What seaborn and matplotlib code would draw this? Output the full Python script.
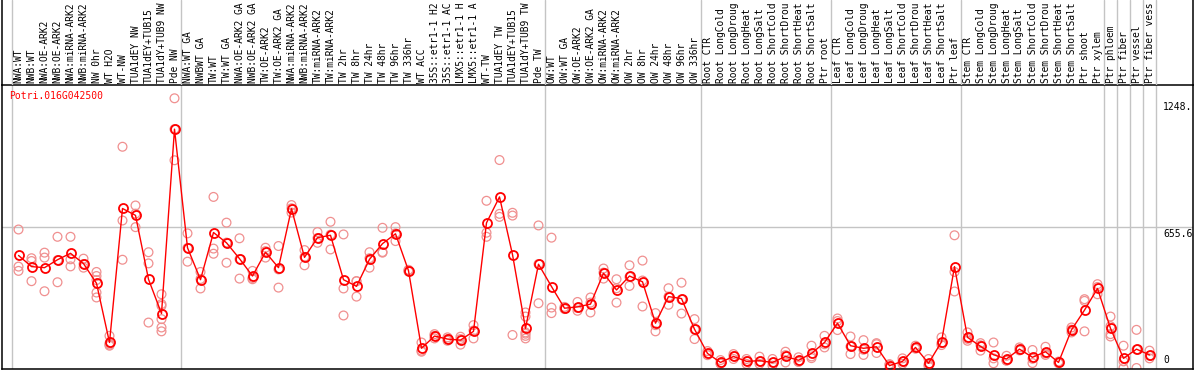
import numpy as np
import pandas as pd
import matplotlib
matplotlib.use("Agg")
import matplotlib.pyplot as plt
import seaborn as sns
from matplotlib.transforms import blended_transform_factory

gene_id = "Potri.016G042500"

labels = [
    "NWA:WT", "NWB:WT", "NWA:OE-ARK2", "NWB:OE-ARK2", "NWA:miRNA-ARK2", "NWB:miRNA-ARK2",
    "NW 0hr", "WT H2O", "WT-NW", "TUA1dEY NW", "TUA1dEY+TUB15", "TUA1dY+TUB9 NW", "Pde NW",
    "NWA:WT GA", "NWBWT GA", "TW:WT", "TW:WT GA", "NWA:OE-ARK2 GA", "NWB:OE-ARK2 GA",
    "TW:OE-ARK2", "TW:OE-ARK2 GA", "NWA:miRNA-ARK2", "NWB:miRNA-ARK2", "TW:miRNA-ARK2",
    "TW:miRNA-ARK2", "TW 2hr", "TW 8hr", "TW 24hr", "TW 48hr", "TW 96hr", "TW 336hr",
    "WT ACC", "35S::etr1-1 H2", "35S::etr1-1 AC", "LMX5::etr1-1 H", "LMX5::etr1-1 A",
    "WT-TW", "TUA1dEY TW", "TUA1dEY+TUB15", "TUA1dY+TUB9 TW", "Pde TW",
    "OW:WT", "OW:WT GA", "OW:OE-ARK2", "OW:OE-ARK2 GA", "OW:miRNA-ARK2", "OW:miRNA-ARK2",
    "OW 2hr", "OW 8hr", "OW 24hr", "OW 48hr", "OW 96hr", "OW 336hr",
    "Root CTR", "Root LongCold", "Root LongDroug", "Root LongHeat", "Root LongSalt",
    "Root ShortCold", "Root ShortDrou", "Root ShortHeat", "Root ShortSalt", "Ptr root",
    "Leaf CTR", "Leaf LongCold", "Leaf LongDroug", "Leaf LongHeat", "Leaf LongSalt",
    "Leaf ShortCold", "Leaf ShortDrou", "Leaf ShortHeat", "Leaf ShortSalt", "Ptr leaf",
    "Stem CTR", "Stem LongCold", "Stem LongDroug", "Stem LongHeat", "Stem LongSalt",
    "Stem ShortCold", "Stem ShortDrou", "Stem ShortHeat", "Stem ShortSalt",
    "Ptr shoot", "Ptr xylem", "Ptr phloem", "Ptr fiber", "Ptr vessel", "Ptr fiber vess",
]

group_sizes = [13, 28, 12, 10, 10, 11, 1, 1, 1, 1]

mean_values = [
    525, 473, 468, 505, 535, 487, 395, 119, 744, 712, 414, 254, 1114,
    561, 412, 632, 584, 510, 429, 540, 468, 743, 516, 608, 619, 412, 381, 507, 580, 626, 454,
    92, 149, 135, 130, 171, 677, 798, 529, 185, 484,
    380, 279, 285, 298, 442, 364, 429, 402, 209, 333, 324, 181,
    68, 26, 54, 31, 34, 26, 54, 36, 68, 119,
    209, 104, 92, 99, 11, 31, 96, 22, 122, 473,
    143, 101, 62, 42, 88, 50, 76, 26, 178, 270, 371,
    185, 45, 88, 61,
]

replicate_values = [
    [646, 473, 453], [512, 499, 405], [538, 515, 358], [612, 400, 503], [612, 507, 474],
    [510, 468, 485], [448, 429, 352, 329, 410], [150, 104, 109, 115], [1032, 688, 505],
    [758, 657, 720], [540, 488, 212], [344, 298, 228, 189, 171, 290], [1258, 969, 1114],
    [628, 496, 560], [448, 371, 415], [798, 557, 533], [678, 491, 585], [605, 417, 508],
    [453, 414, 420], [561, 515, 545], [569, 375, 460], [760, 725, 745], [550, 479, 518],
    [634, 584, 606], [682, 553, 622], [623, 371, 245], [405, 333, 405], [540, 468, 512],
    [654, 541, 538], [657, 592, 628], [454, 450, 458], [119, 81, 76], [158, 138, 150],
    [143, 127, 135], [146, 109, 135], [200, 138, 175], [780, 631, 612], [970, 719, 705],
    [724, 711, 154], [259, 240, 166, 150, 138, 160], [665, 302, 485],
    [608, 282, 256], [285, 275, 278], [308, 267, 280], [329, 259, 305], [464, 417, 445],
    [414, 305, 372], [479, 383, 425], [501, 408, 287], [256, 171, 200], [372, 295, 333],
    [398, 254, 320], [228, 135, 180],
    [79, 60, 66], [37, 20, 22], [65, 42, 55], [42, 19, 32], [53, 19, 30], [42, 11, 25],
    [76, 26, 60], [50, 30, 28], [104, 54, 46], [150, 96, 111],
    [231, 177, 219], [147, 65, 100], [130, 61, 85], [116, 70, 111], [0, 15, 18],
    [45, 19, 29], [104, 90, 94], [42, 8, 16], [143, 107, 116], [619, 448, 357],
    [166, 127, 136], [116, 81, 106], [119, 22, 45], [57, 34, 35], [96, 82, 86],
    [84, 23, 43], [99, 61, 68], [30, 22, 26], [189, 166, 179], [321, 313, 171],
    [391, 344, 378], [240, 158, 147, 195], [104, 0, 31], [178, 0, 86], [81, 45, 57],
]

tick_values = [0, 655.6, 1248]
tick_labels = ["0", "655.6", "1248."]
grid_values = [655.6]

# ---------------------------------------------------------------------------
sns.set_theme(style="white")
plt.rcParams['font.family'] = ['DejaVu Sans Mono']

RED = "#ff0000"
PINK = "#f09090"
GRID = "#c4c4c4"
FS = 7

W, H = 1194, 370
fig = plt.figure(figsize=(W / 100, H / 100), dpi=100)
fig.patch.set_facecolor("white")

L_px, R_px = 1.5, 1193.0
top_px, bot_px = 85.0, 368.5
ax = fig.add_axes([L_px / W, (H - bot_px) / H, (R_px - L_px) / W, (bot_px - top_px) / H])
axl = fig.add_axes([L_px / W, (H - top_px) / H, (R_px - L_px) / W, top_px / H])

n = len(labels)
cols = np.arange(n)
x0, step = 18.5, 13.0
xlim = ((L_px - x0) / step, (R_px - x0) / step)

rep_df = pd.DataFrame(
    [(i, v) for i, reps in enumerate(replicate_values) for v in reps],
    columns=["col", "value"],
)
mean_df = pd.DataFrame({"col": cols, "value": mean_values})

# group separators and grid
bounds = np.cumsum([0] + group_sizes) - 0.5
for b in bounds:
    ax.axvline(b, color=GRID, lw=1.0, zorder=0)
    axl.axvline(b, color=GRID, lw=1.0, zorder=0)
for g in grid_values:
    ax.axhline(g, color=GRID, lw=1.0, zorder=0)

sns.scatterplot(data=rep_df, x="col", y="value", ax=ax, marker="o", s=40,
                color=PINK, linewidth=0.9, zorder=2, legend=False)
ax.collections[-1].set_facecolor("none")
ax.collections[-1].set_edgecolor(PINK)

sns.lineplot(data=mean_df, x="col", y="value", ax=ax, color=RED, lw=1.0,
             marker="o", markersize=6.5, markerfacecolor="none",
             markeredgecolor=RED, markeredgewidth=1.3, zorder=3, legend=False)

ax.set_xlim(*xlim)
ax.set_ylim(-2.3, 1320)
ax.set_xticks([])
ax.set_yticks([])
ax.set_xlabel("")
ax.set_ylabel("")
for s in ax.spines.values():
    s.set_visible(True)
    s.set_color("black")
    s.set_linewidth(1.1)

ax.annotate(gene_id, xy=(0, 1), xycoords="axes fraction", xytext=(8, -6),
            textcoords="offset pixels", color=RED, fontsize=FS, ha="left", va="top")

trans = blended_transform_factory(ax.transAxes, ax.transData)
tx = (1163 - L_px) / (R_px - L_px)
for v, t in zip(tick_values, tick_labels):
    if v == 0:
        ax.annotate(t, xy=(tx, v), xycoords=trans, xytext=(0, 3), textcoords="offset pixels",
                    fontsize=FS, ha="left", va="bottom", color="black")
    else:
        ax.annotate(t, xy=(tx, v), xycoords=trans, xytext=(0, -2), textcoords="offset pixels",
                    fontsize=FS, ha="left", va="top", color="black")

# label strip
axl.set_xlim(*xlim)
axl.set_ylim(0, 1)
axl.set_xticks([])
axl.set_yticks([])
axl.patch.set_alpha(0)
for k, s in axl.spines.items():
    if k in ("left", "right"):
        s.set_color("black")
        s.set_linewidth(1.1)
    else:
        s.set_visible(False)
for i, lab in enumerate(labels):
    axl.text(i, 2.0 / top_px, lab, rotation=90, ha="center", va="bottom",
             fontsize=6.9, color="black", clip_on=False)

fig.savefig("out.png", dpi=100, facecolor="white")
